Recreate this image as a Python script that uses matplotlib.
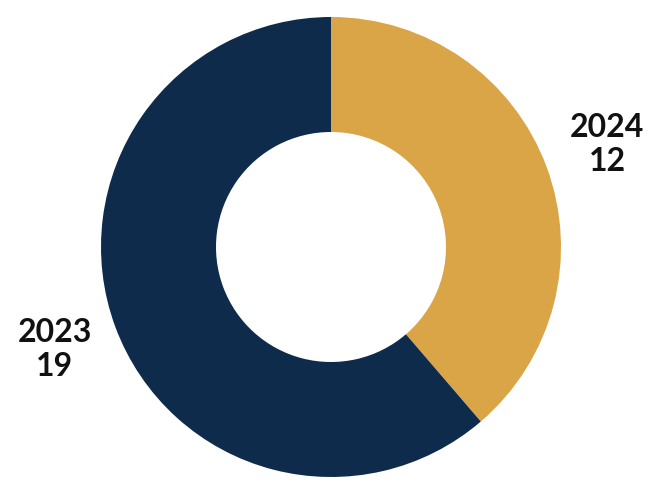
import matplotlib.pyplot as plt

years = ['2024', '2023']
counts = [12, 19]
colors = ['#D9A546', '#0F2B4C']

fig = plt.figure(figsize=(6.62, 4.96), dpi=100)
ax = fig.add_axes([0, 0, 1, 1])

labels = [f'{y}\n{c}' for y, c in zip(years, counts)]
wedges, texts = ax.pie(counts, labels=labels, colors=colors, startangle=90,
                       counterclock=False, center=(331, 249), radius=230,
                       labeldistance=1.28, frame=True,
                       wedgeprops=dict(width=115, linewidth=0),
                       textprops=dict(fontsize=23, fontweight='bold',
                                      family='Lato', color='#111111',
                                      linespacing=1.2))
for t in texts:
    t.set_ha('center')
ax.set_xlim(0, 662)
ax.set_ylim(0, 496)
ax.set_aspect('equal')
ax.axis('off')

fig.savefig('out.png', dpi=100)
